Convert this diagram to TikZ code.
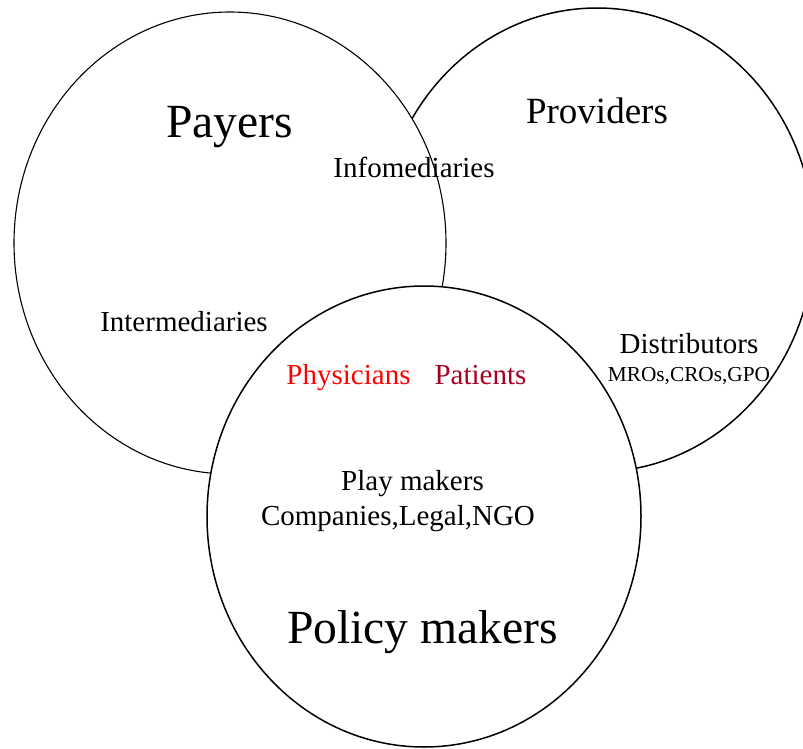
\documentclass[tikz,border=0pt]{standalone}
\usepackage{fontspec}
\setmainfont{Liberation Serif}
\definecolor{physred}{RGB}{255,0,0}
\definecolor{patred}{RGB}{165,0,33}
\begin{document}
\begin{tikzpicture}[x=1bp,y=-1bp,
  ring/.style={draw=black,fill=white,line width=1.5bp},
  big/.style={font=\fontsize{47.6bp}{50bp}\selectfont,inner sep=0pt,anchor=base},
  mid/.style={font=\fontsize{37bp}{40bp}\selectfont,inner sep=0pt,anchor=base},
  txt/.style={font=\fontsize{29bp}{32bp}\selectfont,inner sep=0pt,anchor=base},
  small/.style={font=\fontsize{21.3bp}{24bp}\selectfont,inner sep=0pt,anchor=base}]
\useasboundingbox (0,0) rectangle (803,749);
\begin{scope}
\clip (0,0) rectangle (803,749);
\draw[ring] (597,240) ellipse [x radius=217, y radius=232];
\draw[ring,line width=1.1bp] (230,243) ellipse [x radius=216, y radius=231];
\draw[ring] (424,516.5) ellipse [x radius=217, y radius=230.5];
\end{scope}
\node[big] (payers) at (229.5,137) {Payers};
\node[mid] (providers) at (597,123) {Providers};
\node[txt] (info) at (414,177) {Infomediaries};
\node[txt] (inter) at (184,331) {Intermediaries};
\node[txt] (dist) at (689,353) {Distributors};
\node[small] (mros) at (689,381) {MROs,CROs,GPO};
\node[txt,text=physred] (phys) at (348.5,384) {Physicians};
\node[txt,text=patred] (pat) at (480.5,384) {Patients};
\node[txt] (play) at (412.5,490) {Play makers};
\node[txt] (comp) at (398,525) {Companies,Legal,NGO};
\node[big] (policy) at (422.5,643) {Policy makers};
\end{tikzpicture}
\end{document}
